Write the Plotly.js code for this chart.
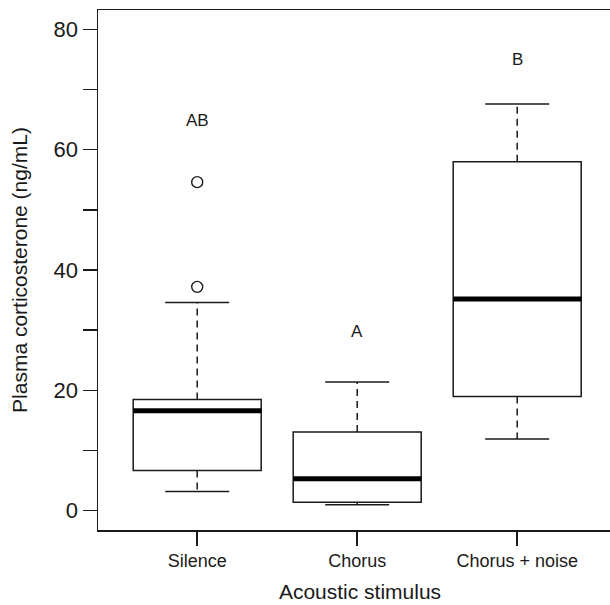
<!DOCTYPE html>
<html>
<head>
<meta charset="utf-8">
<script src="https://cdn.plot.ly/plotly-3.0.1.min.js"></script>
<style>
  html, body { margin: 0; padding: 0; background: #fff; overflow: hidden; }
  #chart { width: 622px; height: 605px; }
</style>
</head>
<body>
<div id="chart"></div>
<script>
// ---- data ----
const groups = ["Silence", "Chorus", "Chorus + noise"];
const positions = [1, 2, 3];
const q1 = [6.7, 1.4, 19.0];
const median = [16.6, 5.3, 35.2];
const q3 = [18.5, 13.1, 58.0];
const lowerWhisker = [3.2, 1.0, 11.9];
const upperWhisker = [34.6, 21.4, 67.6];
const outlierGroup = [1, 1];
const outlierValue = [37.2, 54.6];
const letters = ["AB", "A", "B"];
const letterY = [64.8, 29.8, 75];
const yTickVals = [0, 10, 20, 30, 40, 50, 60, 70, 80];
const yTickText = ["0", "", "20", "", "40", "", "60", "", "80"];

// ---- styling ----
const INK = "#1a1a1a";
const BOX_W = 0.8;
const CAP_W = 0.4;
const LW = 1.5;
const FONT = "Liberation Sans, Arial, sans-serif";

const traces = [];

// boxes (whiskers drawn separately so that they can be dashed)
positions.forEach((p, i) => {
  traces.push({
    type: "box",
    name: groups[i],
    x: [p],
    q1: [q1[i]],
    median: [median[i]],
    q3: [q3[i]],
    lowerfence: [q1[i]],
    upperfence: [q3[i]],
    width: BOX_W,
    whiskerwidth: 0,
    fillcolor: "white",
    line: { color: INK, width: LW },
    boxpoints: false,
    hoverinfo: "skip",
    showlegend: false
  });
});

// dashed whiskers
const wx = [], wy = [];
positions.forEach((p, i) => {
  wx.push(p, p, null, p, p, null);
  wy.push(q3[i], upperWhisker[i], null, q1[i], lowerWhisker[i], null);
});
traces.push({
  type: "scatter", mode: "lines", x: wx, y: wy,
  line: { color: INK, width: LW, dash: "7px,5px" },
  hoverinfo: "skip", showlegend: false
});

// whisker caps
const cx = [], cy = [];
positions.forEach((p, i) => {
  cx.push(p - CAP_W / 2, p + CAP_W / 2, null, p - CAP_W / 2, p + CAP_W / 2, null);
  cy.push(upperWhisker[i], upperWhisker[i], null, lowerWhisker[i], lowerWhisker[i], null);
});
traces.push({
  type: "scatter", mode: "lines", x: cx, y: cy,
  line: { color: INK, width: LW },
  hoverinfo: "skip", showlegend: false
});

// thick medians
const mx = [], my = [];
positions.forEach((p, i) => {
  mx.push(p - BOX_W / 2, p + BOX_W / 2, null);
  my.push(median[i], median[i], null);
});
traces.push({
  type: "scatter", mode: "lines", x: mx, y: my,
  line: { color: "#000", width: 5 },
  hoverinfo: "skip", showlegend: false
});

// outliers
traces.push({
  type: "scatter", mode: "markers",
  x: outlierGroup, y: outlierValue,
  marker: { symbol: "circle-open", size: 11, color: INK, line: { width: 1.4, color: INK } },
  hoverinfo: "skip", showlegend: false
});

// significance letters
const annotations = positions.map((p, i) => ({
  x: p, y: letterY[i], xref: "x", yref: "y",
  text: letters[i], showarrow: false,
  font: { family: FONT, size: 17, color: INK }
}));

const layout = {
  width: 622, height: 605,
  margin: { l: 98, r: 0, t: 10, b: 75 },
  paper_bgcolor: "white", plot_bgcolor: "white",
  showlegend: false,
  font: { family: FONT, color: INK },
  xaxis: {
    range: [0.38, 3.655],
    tickmode: "array", tickvals: positions, ticktext: groups,
    ticks: "outside", ticklen: 14, tickwidth: LW, tickcolor: INK,
    tickfont: { family: FONT, size: 18, color: INK },
    showline: true, linecolor: INK, linewidth: LW, mirror: true,
    showgrid: false, zeroline: false,
    title: { text: "Acoustic stimulus", font: { family: FONT, size: 21, color: INK }, standoff: 14 }
  },
  yaxis: {
    range: [-3.2, 83.2],
    tickmode: "array", tickvals: yTickVals, ticktext: yTickText,
    ticks: "outside", ticklen: 14, tickwidth: LW, tickcolor: INK,
    tickfont: { family: FONT, size: 22, color: INK },
    showline: true, linecolor: INK, linewidth: LW,
    showgrid: false, zeroline: false,
    title: { text: "Plasma corticosterone (ng/mL)", font: { family: FONT, size: 21, color: INK }, standoff: 20 }
  },
  annotations: annotations
};

Plotly.newPlot("chart", traces, layout, { staticPlot: true, displayModeBar: false });
</script>
</body>
</html>
